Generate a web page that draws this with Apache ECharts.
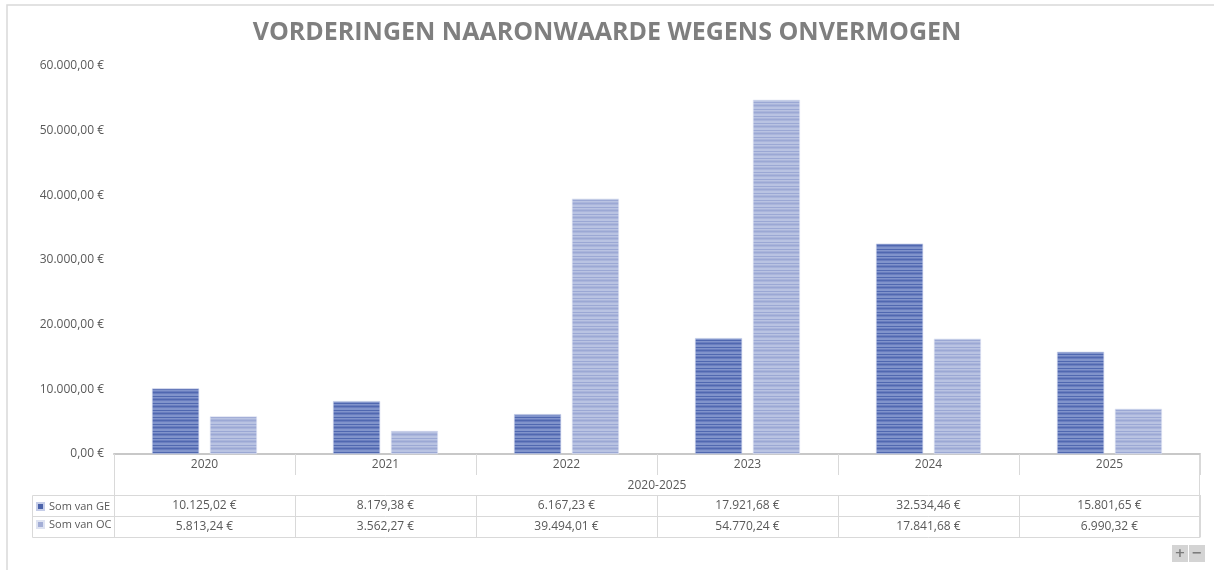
<!DOCTYPE html>
<html>
<head>
<meta charset="utf-8">
<script src="https://cdn.jsdelivr.net/npm/echarts@6/dist/echarts.min.js"></script>
<style>
  html, body { margin: 0; padding: 0; background: #fff; }
  #chart { width: 1214px; height: 570px; }
</style>
</head>
<body>
<div id="chart"></div>
<script>
// Data
const years = ['2020', '2021', '2022', '2023', '2024', '2025'];
const somGE = [10125.02, 8179.38, 6167.23, 17921.68, 32534.46, 15801.65];
const somOC = [5813.24, 3562.27, 39494.01, 54770.24, 17841.68, 6990.32];
const seriesNames = ['Som van GE', 'Som van OC'];
const periodLabel = '2020-2025';
const titleText = 'VORDERINGEN NAARONWAARDE WEGENS ONVERMOGEN';

// Euro formatting: 10.125,02 €
function euro(v) {
  const parts = v.toFixed(2).split('.');
  const intPart = parts[0].replace(/\B(?=(\d{3})+(?!\d))/g, '.');
  return intPart + ',' + parts[1] + ' €';
}

// Striped fill used for the bars
function stripes(base, dark, mid) {
  const c = document.createElement('canvas');
  c.width = 4; c.height = 7;
  const g = c.getContext('2d');
  g.fillStyle = base; g.fillRect(0, 0, 4, 7);
  g.fillStyle = dark; g.fillRect(0, 0, 4, 1); g.fillRect(0, 4, 4, 1);
  g.fillStyle = mid; g.fillRect(0, 1, 4, 1); g.fillRect(0, 6, 4, 1);
  return { image: c, repeat: 'repeat' };
}

const geFill = stripes('#8194cb', '#5068b0', '#6a7ebf');
const ocFill = stripes('#b9c3e2', '#9ba8d4', '#aab5db');

const GRID = { left: 114, right: 14, top: 66, bottom: 116 };
const lineCol = '#d9d9d9';
const textCol = '#595959';

const chart = echarts.init(document.getElementById('chart'));

const tableAxis = (offset, values, show) => ({
  type: 'category',
  data: years,
  position: 'bottom',
  offset: offset,
  axisLine: { show: true, lineStyle: { color: lineCol, width: 1 } },
  axisTick: { show: show, interval: 0, length: 21, lineStyle: { color: lineCol } },
  axisLabel: {
    show: !!values,
    interval: 0,
    margin: 5,
    color: textCol,
    fontSize: 12,
    fontFamily: 'Open Sans',
    formatter: (v, i) => values ? euro(values[i]) : ''
  }
});

chart.setOption({
  animation: false,
  title: {
    text: titleText,
    left: 'center',
    top: 15,
    textStyle: { color: '#7f7f7f', fontSize: 25, fontWeight: 'bold', fontFamily: 'Open Sans' }
  },
  legend: {
    orient: 'vertical',
    left: 36,
    top: 501,
    padding: 0,
    itemWidth: 7,
    itemHeight: 7,
    itemGap: 7,
    icon: 'rect',
    textStyle: { color: textCol, fontSize: 11, fontFamily: 'Open Sans' },
    data: [
      { name: seriesNames[0], itemStyle: { color: '#4a62aa' } },
      { name: seriesNames[1], itemStyle: { color: '#a3aed6' } }
    ]
  },
  grid: GRID,
  xAxis: [
    {
      type: 'category',
      data: years,
      axisLine: { show: true, lineStyle: { color: '#c8c8c8', width: 2 } },
      axisTick: { show: true, interval: 0, length: 21, lineStyle: { color: lineCol } },
      axisLabel: { color: textCol, fontSize: 12, fontFamily: 'Open Sans', margin: 5 },
      name: periodLabel,
      nameLocation: 'middle',
      nameGap: 26,
      nameTextStyle: { color: textCol, fontSize: 12, fontFamily: 'Open Sans' }
    },
    tableAxis(41, somGE, true),
    tableAxis(62, somOC, true),
    tableAxis(83, null, false)
  ],
  yAxis: {
    type: 'value',
    min: 0,
    max: 60000,
    interval: 10000,
    axisLine: { show: false },
    axisTick: { show: false },
    splitLine: { show: false },
    axisLabel: {
      color: textCol,
      fontSize: 12,
      fontFamily: 'Open Sans',
      margin: 10,
      formatter: v => euro(v)
    }
  },
  series: [
    {
      name: seriesNames[0],
      type: 'bar',
      data: somGE,
      barWidth: '26%',
      barGap: '23%',
      itemStyle: { color: geFill, borderColor: '#c5cde8', borderWidth: 0.6 }
    },
    {
      name: seriesNames[1],
      type: 'bar',
      data: somOC,
      barWidth: '26%',
      itemStyle: { color: ocFill, borderColor: '#dde2f1', borderWidth: 0.6 }
    }
  ],
  graphic: [
    // outer frame (top and left edge)
    { type: 'polyline', shape: { points: [[7, 570], [7, 5], [1214, 5]] }, style: { stroke: lineCol, lineWidth: 1.5, fill: null } },
    // table borders
    { type: 'line', shape: { x1: 114.5, y1: 454, x2: 114.5, y2: 537 }, style: { stroke: lineCol, lineWidth: 1 } },
    { type: 'line', shape: { x1: 1199.5, y1: 454, x2: 1199.5, y2: 537 }, style: { stroke: lineCol, lineWidth: 1 } },
    { type: 'polyline', shape: { points: [[114, 495.5], [32.5, 495.5], [32.5, 537.5], [114, 537.5]] }, style: { stroke: lineCol, lineWidth: 1, fill: null } },
    { type: 'line', shape: { x1: 32, y1: 516.5, x2: 114, y2: 516.5 }, style: { stroke: lineCol, lineWidth: 1 } },
    // zoom buttons
    { type: 'rect', shape: { x: 1172, y: 545, width: 16, height: 17 }, style: { fill: '#d4d4d4' } },
    { type: 'rect', shape: { x: 1189, y: 545, width: 16, height: 17 }, style: { fill: '#d4d4d4' } },
    { type: 'text', x: 1180, y: 553.5, style: { text: '+', fill: '#7a7a7a', font: 'bold 13px "DejaVu Sans"', align: 'center', verticalAlign: 'middle' } },
    { type: 'text', x: 1197, y: 553.5, style: { text: '−', fill: '#7a7a7a', font: 'bold 13px "DejaVu Sans"', align: 'center', verticalAlign: 'middle' } }
  ]
});
</script>
</body>
</html>
